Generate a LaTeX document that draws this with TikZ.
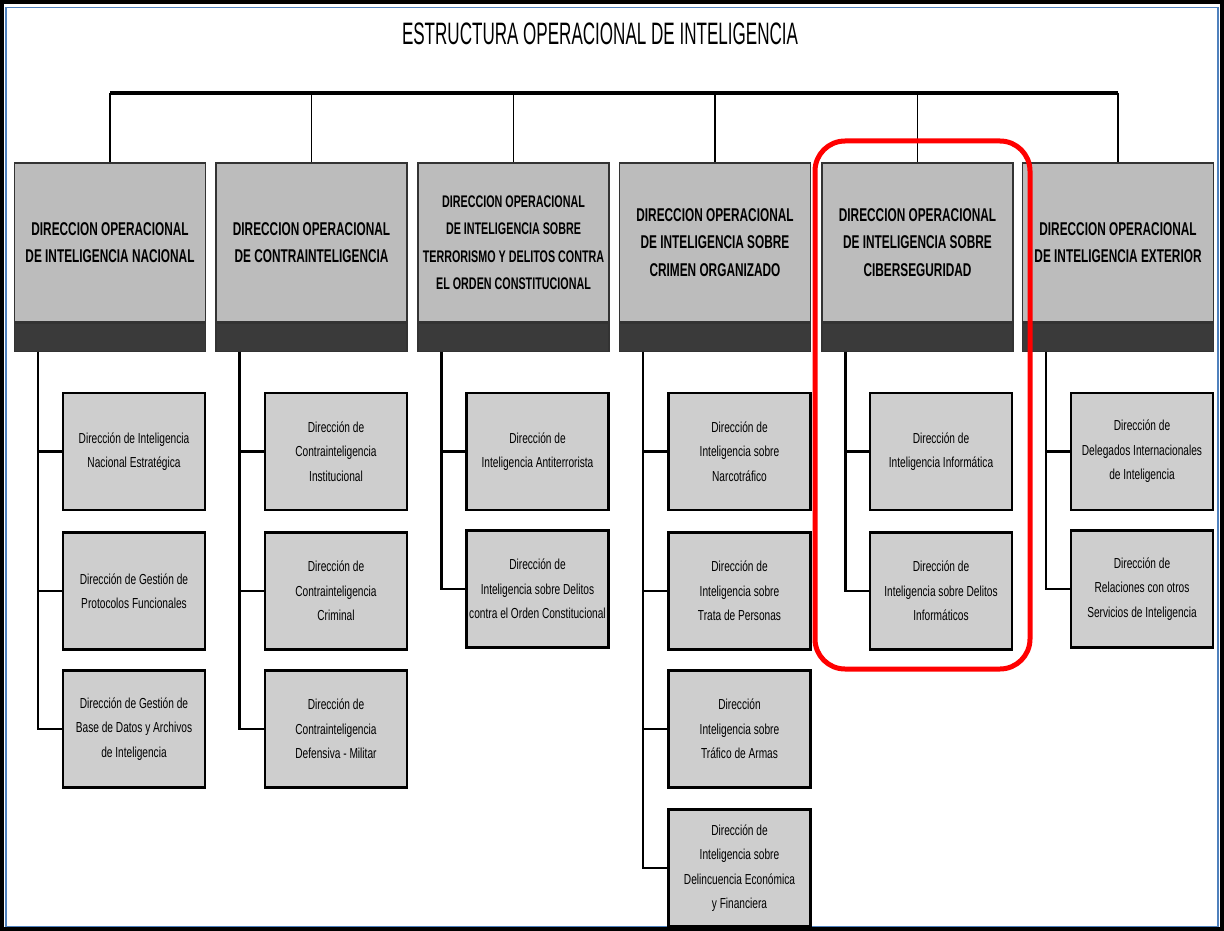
\documentclass[tikz,border=0pt]{standalone}
\usepackage{fontspec}
\newfontfamily\titlefont[FakeStretch=0.55]{Liberation Sans}
\newfontfamily\headfont[FakeStretch=0.64]{Liberation Sans}
\newfontfamily\subfont[FakeStretch=0.70]{Liberation Sans}
\definecolor{frameblue}{RGB}{79,129,189}
\definecolor{headgray}{RGB}{188,188,188}
\definecolor{bandgray}{RGB}{58,58,58}
\definecolor{subgray}{RGB}{206,206,206}
\begin{document}
\begin{tikzpicture}[x=1pt,y=-1pt,
  headbox/.style={rectangle,draw=black!80,line width=1.2pt,fill=headgray,
    minimum width=191pt,minimum height=159pt,inner sep=2pt,align=center,
    font=\headfont\bfseries\fontsize{18.5}{27.5}\selectfont},
  longhead/.style={inner xsep=0pt,font=\headfont\bfseries\fontsize{16.8}{27.5}\selectfont},
  bandbox/.style={rectangle,draw=black!80,line width=1.2pt,fill=bandgray,
    minimum width=191pt,minimum height=28pt,inner sep=0pt},
  subbox/.style={rectangle,draw=black,line width=2.6pt,fill=subgray,
    minimum width=142pt,minimum height=117pt,inner sep=2pt,align=center,
    text=black,font=\subfont\fontsize{14.5}{24.5}\selectfont},
  link/.style={draw=black,line width=2.2pt},
  drop/.style={draw=black,line width=1.6pt},
  bus/.style={draw=black,line width=3.6pt}]
\useasboundingbox (0,0) rectangle (1224,931);
\fill[white] (0,0) rectangle (1224,931);

% page frame
\draw[black,line width=4pt] (2,2) rectangle (1222,929);
\draw[frameblue,line width=1.5pt] (6,7.5) rectangle (1218,926.5);

% title
\node[font=\titlefont\fontsize{31}{32}\selectfont] (title) at (600,34)
  {ESTRUCTURA OPERACIONAL DE INTELIGENCIA};

% directorate heads
\node[headbox] (h1) at (110,242.5) {DIRECCION OPERACIONAL\\DE INTELIGENCIA NACIONAL};
\node[headbox] (h2) at (311.5,242.5) {DIRECCION OPERACIONAL\\DE CONTRAINTELIGENCIA};
\node[headbox,longhead] (h3) at (513.5,242.5) {DIRECCION OPERACIONAL\\DE INTELIGENCIA SOBRE\\TERRORISMO Y DELITOS CONTRA\\EL ORDEN CONSTITUCIONAL};
\node[headbox] (h4) at (715,242.5) {DIRECCION OPERACIONAL\\DE INTELIGENCIA SOBRE\\CRIMEN ORGANIZADO};
\node[headbox] (h5) at (917.5,242.5) {DIRECCION OPERACIONAL\\DE INTELIGENCIA SOBRE\\CIBERSEGURIDAD};
\node[headbox] (h6) at (1118,242.5) {DIRECCION OPERACIONAL\\DE INTELIGENCIA EXTERIOR};
\foreach \i in {1,...,6}{
  \node[bandbox,anchor=north] (b\i) at (h\i.south) {};
}

% top bus
\coordinate (busy) at (0,93);
\draw[bus] (h1.north |- busy) -- (h6.north |- busy);
\foreach \i in {1,...,6}{
  \draw[drop] (h\i.north |- busy) -- (h\i.north);
}

% sub-directorates
\node[subbox] (s11) at (134,451.5) {Dirección de Inteligencia\\Nacional Estratégica};
\node[subbox] (s12) at (134,591) {Dirección de Gestión de\\Protocolos Funcionales};
\node[subbox] (s13) at (134,729) {Dirección de Gestión de\\Base de Datos y Archivos\\de Inteligencia};

\node[subbox] (s21) at (336,451.5) {Dirección de\\Contrainteligencia\\Institucional};
\node[subbox] (s22) at (336,591) {Dirección de\\Contrainteligencia\\Criminal};
\node[subbox] (s23) at (336,729) {Dirección de\\Contrainteligencia\\Defensiva - Militar};

\node[subbox] (s31) at (537.5,451.5) {Dirección de\\Inteligencia Antiterrorista};
\node[subbox] (s32) at (537.5,589) {Dirección de\\Inteligencia sobre Delitos\\contra el Orden Constitucional};

\node[subbox] (s41) at (739.5,451.5) {Dirección de\\Inteligencia sobre\\Narcotráfico};
\node[subbox] (s42) at (739.5,591) {Dirección de\\Inteligencia sobre\\Trata de Personas};
\node[subbox] (s43) at (739.5,729) {Dirección\\Inteligencia sobre\\Tráfico de Armas};
\node[subbox] (s44) at (739.5,868) {Dirección de\\Inteligencia sobre\\Delincuencia Económica\\y Financiera};

\node[subbox] (s51) at (941,451.5) {Dirección de\\Inteligencia Informática};
\node[subbox] (s52) at (941,591) {Dirección de\\Inteligencia sobre Delitos\\Informáticos};

\node[subbox] (s61) at (1142,451.5) {Dirección de\\Delegados Internacionales\\de Inteligencia};
\node[subbox] (s62) at (1142,589) {Dirección de\\Relaciones con otros\\Servicios de Inteligencia};

% branch lines
\foreach \i in {1,...,6}{
  \coordinate (v\i) at ([xshift=24pt]b\i.south west);
}
\foreach \i/\n in {1/3,2/3,3/2,4/4,5/2,6/2}{
  \foreach \j in {1,...,\n}{
    \draw[link] (v\i) |- (s\i\j.west);
  }
}

% highlight around the cybersecurity branch
\draw[red,line width=5pt,rounded corners=30pt] (815,141) rectangle (1030,669);
\end{tikzpicture}
\end{document}
